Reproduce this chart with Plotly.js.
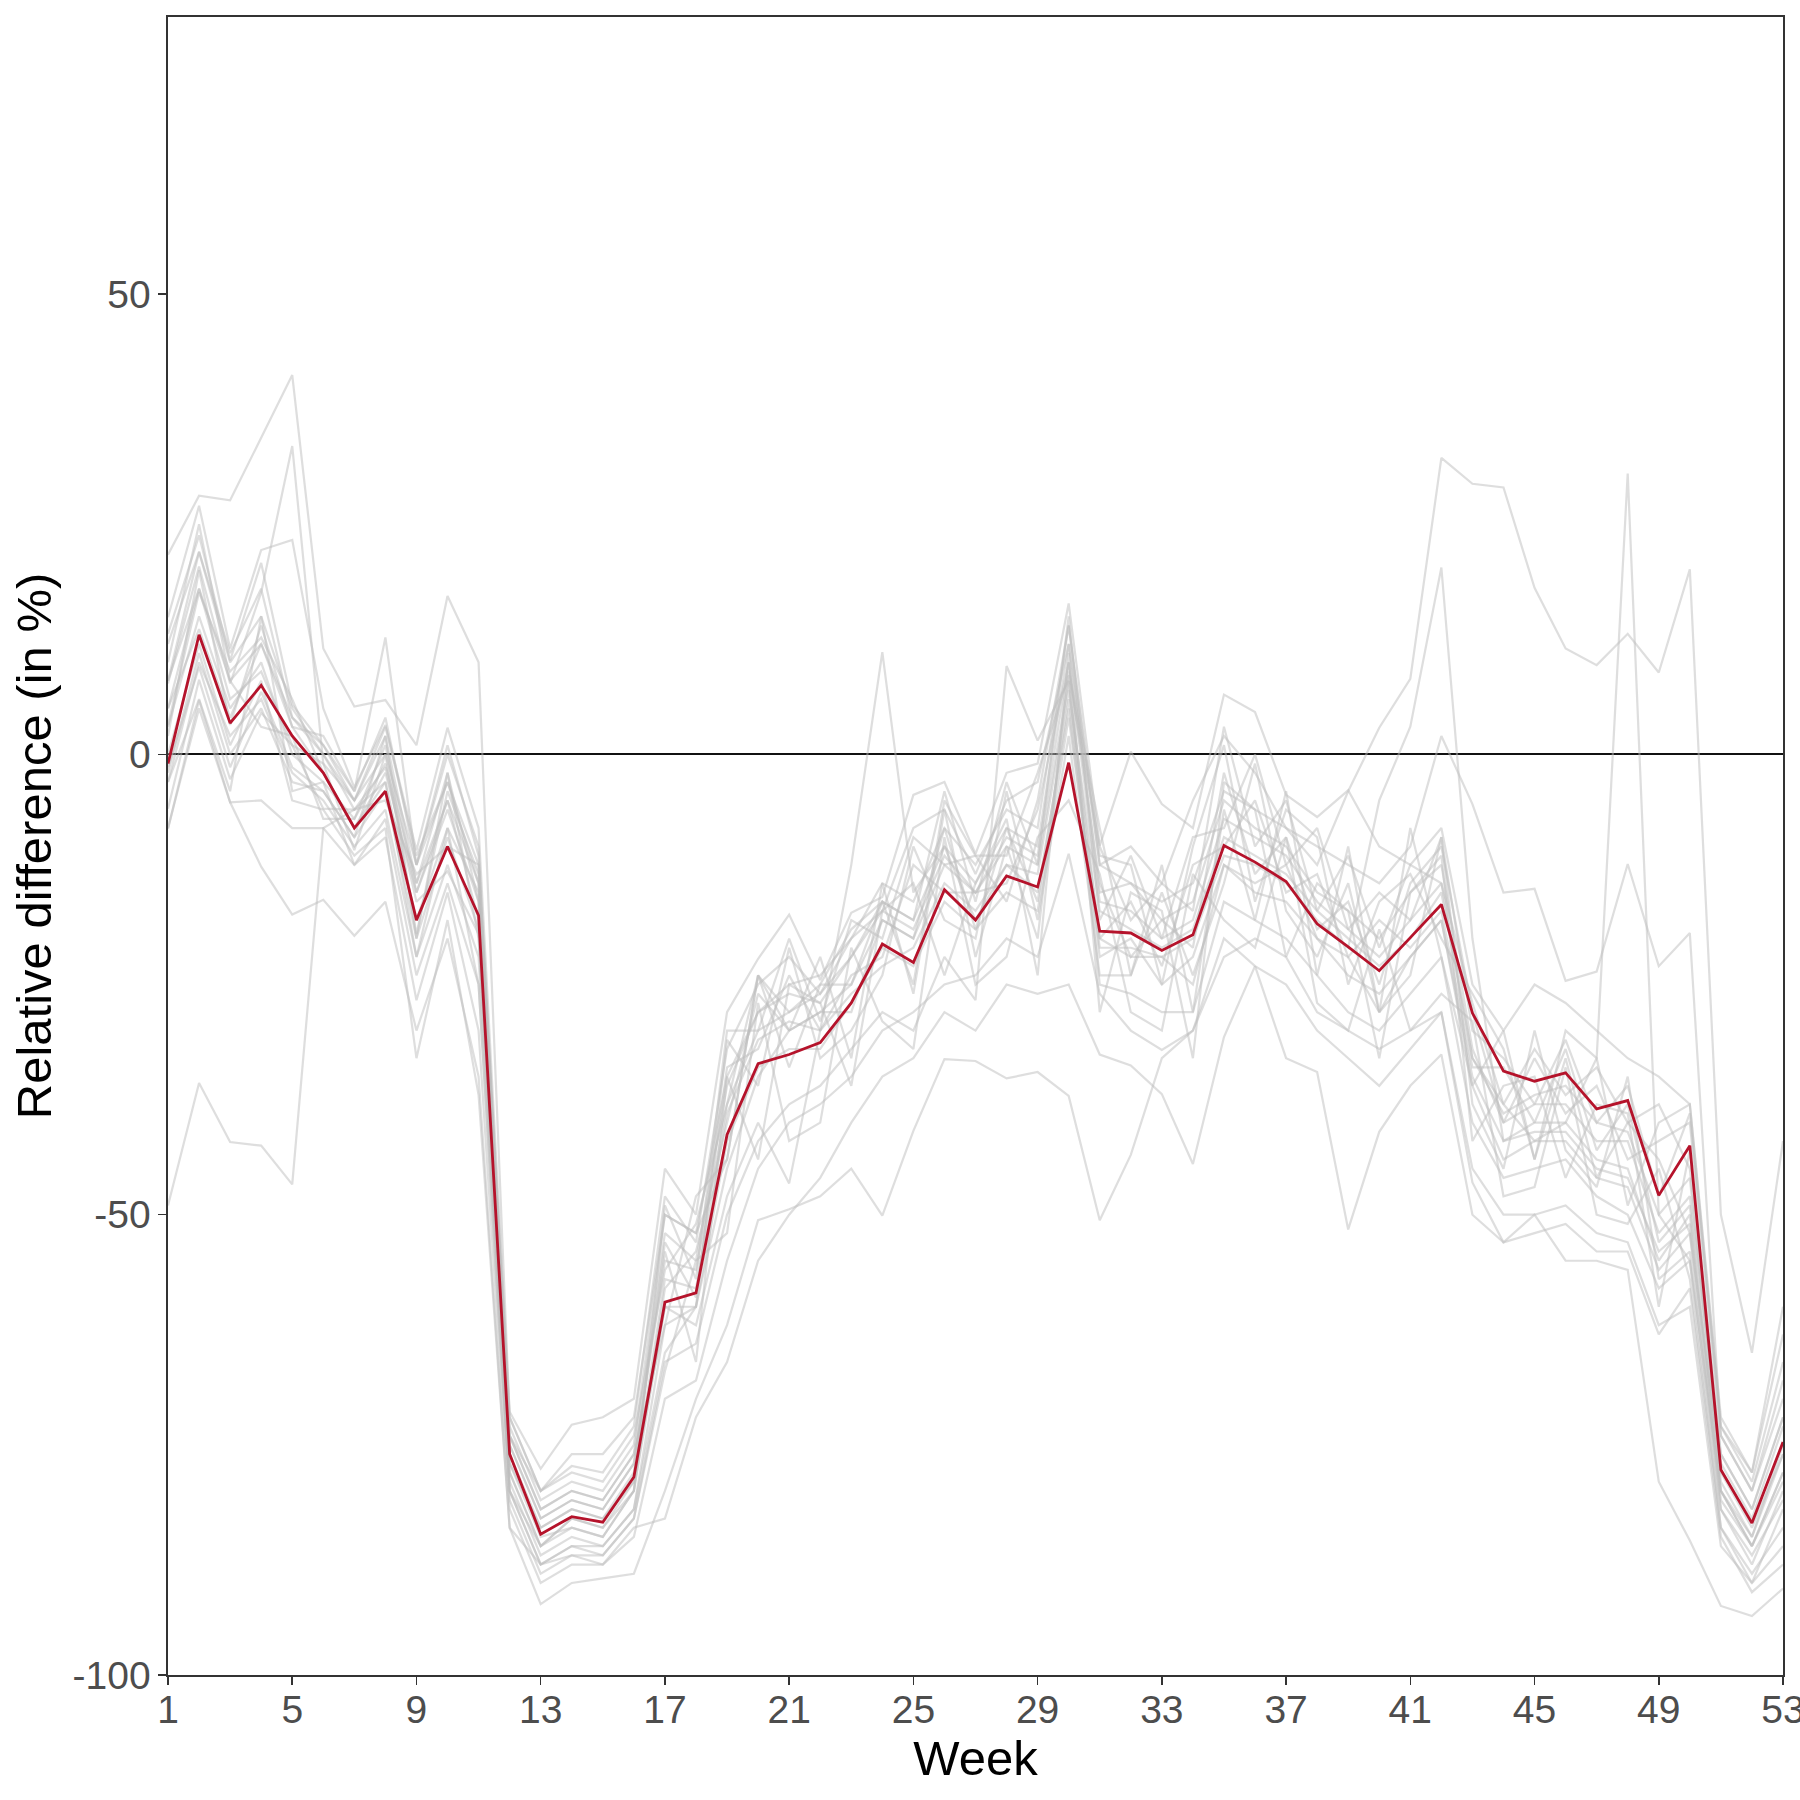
<!DOCTYPE html>
<html>
<head>
<meta charset="utf-8">
<script src="https://cdn.plot.ly/plotly-3.0.1.min.js"></script>
<style>
  html, body { margin: 0; padding: 0; background: #fff; }
  #chart { width: 1800px; height: 1800px; }
</style>
</head>
<body>
<div id="chart"></div>
<script>
// weeks 1..53
const weeks = [1,2,3,4,5,6,7,8,9,10,11,12,13,14,15,16,17,18,19,20,21,22,23,24,25,26,27,28,29,30,31,32,33,34,35,36,37,38,39,40,41,42,43,44,45,46,47,48,49,50,51,52,53];

// highlighted series (red)
const highlight = [-1,13,3.4,7.5,2,-2,-8,-4,-18,-10,-17.5,-76,-84.7,-82.8,-83.4,-78.5,-59.5,-58.5,-41.3,-33.6,-32.6,-31.3,-27,-20.6,-22.6,-14.7,-18,-13.2,-14.4,-0.9,-19.2,-19.4,-21.3,-19.6,-9.9,-11.7,-13.8,-18.4,-20.9,-23.5,-19.9,-16.3,-28.1,-34.4,-35.5,-34.6,-38.5,-37.6,-47.9,-42.5,-77.7,-83.5,-74.7];

// other series (grey)
const grey01 = [-49,-35.7,-42.1,-42.5,-46.7,-8,-6,-3,-22,-8,-25,-80,-88,-86,-86,-82,-65,-60,-45,-35,-30,-28,-25,-18,-20,-12,-15,-10,-12,8,-20,-22,-22,-25,-12,-14,-12,-20,-22,-28,-22,-18,-35,-42,-40,-40,-44,-45,-55,-50,-80,-86,-78];
const grey02 = [21.7,28.1,27.6,34.4,41.2,11.5,5.2,5.9,1,17.2,10,-72,-80,-76,-76,-72,-50,-52,-35,-28,-26,-27,-22,-16,-18,-10,-14,-8,-10,12,-15,-14,-18,-16,-5,-8,-10,-15,-17,-20,-15,-12,-32,-40,-38,-38,-42,-42,-52,-48,-76,-82,-72];
const grey03 = [8,22,10,15,5,0,-5,0,-12,-3,-14,-74,-82,-80,-81,-76,-52,-55,-36,-28,-25,-24,-20,-14,-16,-8,-12,-6,-8,14,-12,-14,-16,-14,-4,-6,-8,-12,-4,2.9,8.2,32.2,29.4,29,18.1,11.5,9.7,13.1,8.9,20.1,-50,-65,-42];
const grey04 = [5,18,8,12,3,-2,-8,-2,-15,-6,-16,-75,-83,-81,-82,-77,-55,-56,-38,-30,-28,-26,-22,-17,-19,-11,-15,-9,-11,10,-16,-17,-20,-18,-7,-9,-11,-16,-19,-22,-18,-14,-33,-38,-42,-40,-33,30.5,-50,-55,-80,-85,-76];
const grey05 = [-8,5,-5.2,-12.2,-17.4,-15.8,-19.7,-16,-30,-20,-35,-84,-92.3,-90,-89.5,-89,-80,-70,-62,-50.6,-49.4,-48,-45,-50.1,-40.9,-33.1,-33.3,-35.2,-34.5,-37.1,-50.6,-43.5,-33,-30,-22,-20,-22,-28,-30,-32,-30,-28,-46.5,-53,-52,-51,-54,-54,-63,-58,-85,-91,-88];
const grey06 = [3,15,5,10,0,-3,-7,-1,-14,-5,-18,-78,-86,-84,-85,-80,-60,-62,-48,-40,-46.6,-30,-12,11.1,-15,-10,-18,-12,-15,5,-22,-20,-25,-22,-12,-15,-16,-20,-24,-26,-22,-18,-36,-44,-42,-42,-46,-47,-56,-52,-82,-88,-80];
const grey07 = [-3,10,2,6,-2,-5,-10,-6,-22,-12,-22,-80,-88,-86,-87,-83,-66,-64,-50,-42,-38,-36,-32,-28,-30,-22,-26.7,9.6,1.5,8,-25,-26,-28,-28,-16,-18,-20,-24,-28,-30,-26,-22,-40,-46,-45,-44,-48,-50,-58,-55,-84,-90,-82];
const grey08 = [14.9,27,11.5,22.2,23.3,5,-3.6,3.2,-10.4,2.9,-8,-71.4,-77.6,-72.8,-72,-70,-45,-50,-28,-22.2,-17.4,-24.5,-17.2,-15.5,-4.4,-3,-10.8,-2,-1,16.4,-9.9,0.3,-5.4,-8,6.5,4.6,-4.4,-6.8,-3.9,-10,-12,-8,-25,-30,-25,-27,-30,-33,-35,-38,-72,-78,-60];
const grey09 = [13.1,23.8,10.2,20.8,5.4,1,-4,12.7,-12,0,-10,-74,-80,-77.3,-78,-73,-48,-53,-32,-25,-22,-26,-20,-17,-8,-6,-13,-5,-3,12,-12,-10,-14,-5,2,-2,-8,-10,-12,-14,-10,2,-5.4,-15,-14.6,-24.6,-23.6,-11.9,-23,-19.4,-74,-80,-68];
const grey10 = [7.7,20.4,7.7,17.6,33.5,-1,-10.4,0,-19.5,-4,-13,-76,-84,-82,-83,-78,-53,-59,-34,-32,-24,-30,-24,-22,-12,-15,-15,-14,-6,10,-14,-22,-18,-21,-2,-13,-9,-19,-16,-25,-14,-10,-28,-40,-33,-39,-36,-44,-42,-40,-74,-80,-70];
const grey11 = [3.2,17.6,9,12.7,6,-2,-8,-3,-18,-8,-15,-77,-85,-84,-85,-80,-49,-57,-30,-30,-20,-29,-18,-20,-9,-12,-11,-11,-2,8.6,-10,-18,-14,-17,3,-10,-5,-17,-11,-21,-12,-14,-27,-38,-32,-37,-34,-40,-38,-45,-78,-84,-76];
const grey12 = [-1.4,9.5,-1.4,6.8,-1.4,-4,-9,2,-20,-2,-20,-79,-87,-85,-86,-82,-62,-60,-31,-36,-21,-33,-30,-24,-10,-18,-20,-4,-18,2,-24,-24,-15,-24,-14,-1,-17,-22,-14,-28,-24,-9,-38,-45,-30,-43,-47,-35,-57,-54,-82,-87,-81];
const grey13 = [-5.9,8.1,-2.7,4.5,1,-5.9,-6,-1.4,-16,-12.7,-19.5,-80,-86,-83,-84,-80,-58,-54,-40,-26,-30,-28,-28,-18,-20,-8,-19,-8,-16,6,-20,-16,-23,-12,-10,-5,-15,-13,-22,-18,-21,-17,-34,-34,-40,-32,-43,-38,-53,-49,-80,-86,-78];
const grey14 = [-8.1,5.9,-5.2,-5,-8,-8,-12,-9,-26.7,-15,-30,-82,-90,-88,-88,-85,-70,-68,-55,-45,-40,-38,-35,-30,-28,-25,-24,-20,-22,-10.8,-26,-30,-32.1,-30,-20,-23,-25,-30,-33,-36,-32,-28,-45,-50,-50,-49,-52,-53,-62,-60,-86,-90,-86];
const grey15 = [0,12,1,8,-5,-6,-11,-8,-33,-18,-37,-84,-88,-87,-88,-84,-83,-72,-66,-55,-50,-46,-40,-35,-33,-28,-30,-25,-26,-25,-32.6,-33.8,-36.9,-44.5,-30.7,-23,-33,-34.5,-51.6,-41,-36,-32.6,-50,-53,-50,-55,-55,-56,-79,-85.4,-92.5,-93.6,-90.6];
const grey16 = [5,13.6,4,12,4,0,-6,-5,-13,-10,-12,-73,-81,-79,-80,-75,-50,-52,-44,-24,-34,-25,-19,-16,-25,-5,-11,-16,-5,14,-11,-12,-25,-10,1,-16,-6,-9,-25,-16,-13,-20,-26,-32,-44,-30,-33,-49,-40,-38,-73,-79,-66];
const grey17 = [10,25,8,3,2,-7,-7,1,-15,-5,-14,-75,-83,-81,-82,-77,-54,-66,-35,-44,-25,-27,-36,-17,-14,-24,-14,-7,-24,11,-28,-15,-17,-33,-3,-6,-22,-14,-17,-33,-15,-11,-42,-36,-35,-46,-38,-39,-60,-43,-76,-82,-72];
const grey18 = [-3,6,-4,15,-4,-3,-12,-7,-24,-14,-25,-81,-89,-87,-87,-83,-67,-55,-52,-27,-42,-40,-21,-29,-32,-9,-25,-22,-9,-5,-13,-28,-30,-13,-18,-21,-9,-27,-30,-19,-30,-26,-29,-48,-47,-34,-50,-51,-45,-57,-84,-89,-84];
const grey19 = [8,18,6,9,1,-1,-5,3,-11,-3,-12,-74,-82,-80,-81,-76,-62,-48,-44,-24,-30,-22,-33,-14,-26,-6,-22,-10,-20,9,-8,-24,-12,-28,-6,-18,-4,-24,-10,-28,-8,-22,-36,-30,-44,-33,-46,-40,-44,-52,-77,-83,-73];
const grey20 = [2,20,3.2,14,3,2,-4,4,-12,1,-11,-72,-80,-78,-79,-74,-56,-51,-38,-24,-28,-25,-25,-16,-18,-4,-16,-3,-12,15,-18,-11,-20,-9,-8,0,-12,-8,-19,-15,-18,-9,-30,-33,-38,-31,-40,-36,-48,-39,-73,-78,-63];
const grey21 = [-2,11,0,5,-3,-4,-9,-4,-20,-9,-19,-78,-86,-83,-84,-79,-60,-60,-42,-34,-32,-32,-27,-21,-23,-16,-19,-15,-17,4,-21,-21,-22,-20,-11,-12,-14,-18,-21,-5,3,20.3,-20,-42,-41,-41,-45,-46,-54,-51,-81,-86,-79];
const grey22 = [12,22,11,18,4,1,-5,2,-14,-2,-16,-77,-84,-82,-83,-79,-57,-58,-39,-31,-29,-30,-26,-23,-21,-14,-17,-12,-13,7,-17,-19,-21,-19,-9,-11,-13,-17,-20,-23,-20,-15,-33,-39,-37,-36,-40,-41,-50,-46,-79,-85,-75];

const greySeries = [grey01,grey02,grey03,grey04,grey05,grey06,grey07,grey08,grey09,grey10,grey11,
                    grey12,grey13,grey14,grey15,grey16,grey17,grey18,grey19,grey20,grey21,grey22];

// tick labels
const xTicks = [1,5,9,13,17,21,25,29,33,37,41,45,49,53];
const yTicks = [-100,-50,0,50];
const yTickText = ['-100','-50','0','50'];

const font = 'Liberation Sans, Arial, sans-serif';

// grey lines first, red on top
const traces = greySeries.map(function (ys) {
    return {
        x: weeks, y: ys, type: 'scatter', mode: 'lines',
        line: {color: 'rgba(190,190,190,0.5)', width: 2.2},
        hoverinfo: 'skip', showlegend: false
    };
});
traces.push({
    x: weeks, y: highlight, type: 'scatter', mode: 'lines',
    line: {color: '#b5132b', width: 2.8},
    showlegend: false
});

const layout = {
    width: 1800, height: 1800,
    margin: {l: 168, r: 17, t: 17, b: 125},
    paper_bgcolor: '#fff', plot_bgcolor: '#fff',
    showlegend: false,
    font: {family: font, color: '#4d4d4d'},
    xaxis: {
        range: [1, 53], tickvals: xTicks,
        showgrid: false, zeroline: false,
        showline: true, mirror: true, linecolor: '#333', linewidth: 1.6,
        ticks: 'outside', ticklen: 8, tickwidth: 1.6, tickcolor: '#333',
        // the last label runs past the right edge, as in the original
        ticklabeloverflow: 'allow', ticklabelstandoff: -8,
        tickfont: {size: 39, color: '#4d4d4d', family: font},
        title: {text: 'Week', font: {size: 49, color: '#000', family: font}, standoff: 0}
    },
    yaxis: {
        range: [-100, 80.1], tickvals: yTicks, ticktext: yTickText,
        showgrid: false,
        zeroline: true, zerolinecolor: '#111', zerolinewidth: 2,
        showline: true, mirror: true, linecolor: '#333', linewidth: 1.6,
        ticks: 'outside', ticklen: 8, tickwidth: 1.6, tickcolor: '#333',
        tickfont: {size: 39, color: '#4d4d4d', family: font},
        title: {text: 'Relative difference (in %)', font: {size: 49, color: '#000', family: font}, standoff: 5}
    }
};

Plotly.newPlot('chart', traces, layout, {staticPlot: true});
</script>
</body>
</html>
